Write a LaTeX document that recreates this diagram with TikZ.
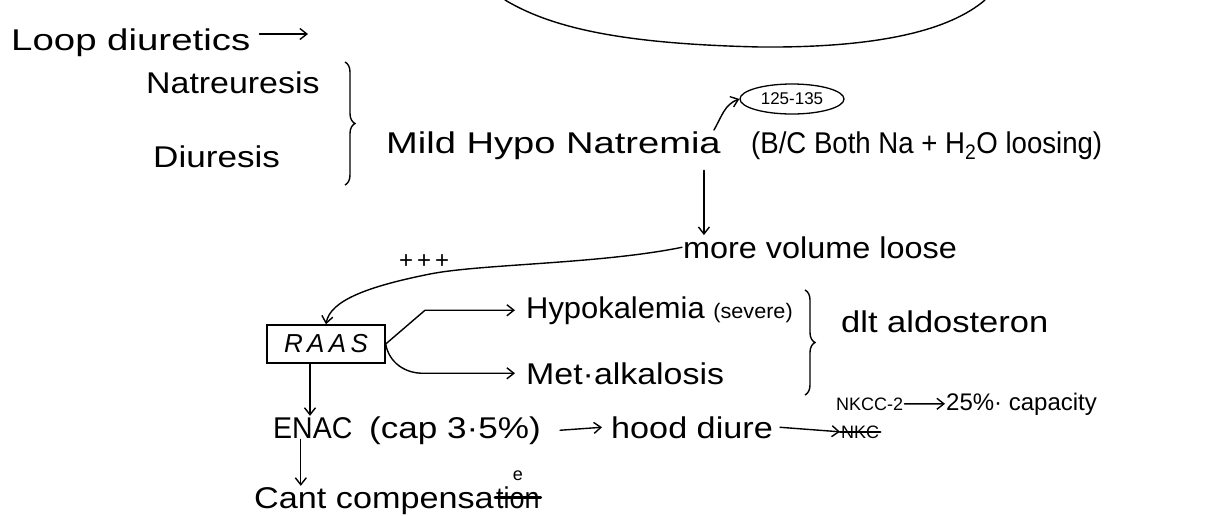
\documentclass[tikz,border=0pt]{standalone}
\usepackage{fontspec}
\setmainfont{Liberation Sans}
\usepackage{tikz}
\usetikzlibrary{arrows.meta, calc, decorations.pathreplacing, shapes.geometric}
\tikzset{
  hand/.style={
    font=\fontsize{30}{34}\selectfont\addfontfeature{FakeStretch=#1},
    inner sep=1pt,
    anchor=base west
  },
  hand/.default=1.1,
  note/.style={
    font=\fontsize{18}{20}\selectfont,
    inner sep=1pt,
    anchor=base west
  },
  pen/.style={
    line width=1.4pt,
    line cap=round
  },
  flow/.style={
    -{Straight Barb[length=7pt,width=11pt]},
    line width=1.4pt,
    line cap=round
  },
  curly/.style={
    decorate,
    decoration={brace, amplitude=10pt},
    line width=1.4pt
  },
  raasbox/.style={
    draw,
    line width=1.4pt,
    font=\itshape\fontsize{26}{28}\selectfont,
    minimum width=118pt,
    minimum height=38pt,
    inner sep=2pt
  },
  rangebox/.style={
    draw,
    ellipse,
    line width=1.3pt,
    font=\fontsize{17}{19}\selectfont,
    minimum width=104pt,
    minimum height=30pt,
    inner sep=0pt
  }
}

\begin{document}
\begin{tikzpicture}[x=1pt, y=-1pt]
    % 1 unit = 1 px of the page, y grows downwards
    \useasboundingbox (0,0) rectangle (1216,515);

    % arc cut off at the top
    \draw[pen] (505,0) .. controls (555,30) and (630,44) .. (760,47)
               .. controls (880,48) and (950,30) .. (985,0);

    % loop diuretics
    \node[hand=1.28] (loop) at (10,50) {Loop diuretics};
    \coordinate (loopend) at (308,34);
    \draw[flow] ([xshift=8pt]loopend -| loop.east) -- (loopend);

    % natriuresis + diuresis
    \node[hand=1.13] (natr) at (145,93) {Natreuresis};
    \node[hand=1.17] (diur) at (152,167) {Diuresis};
    \draw[curly] (345,62) -- (345,185);

    \node[hand=1.27] (mild) at (385,153) {Mild Hypo Natremia};
    \node[hand=0.92] (bc) at (750,153) {(B/C Both Na + H\textsubscript{2}O loosing)};
    \node[rangebox] (range) at (792,99) {125-135};
    \draw[flow] ([xshift=-8pt]mild.north east) to[out=60,in=200] (range.west);

    % volume loss
    \node[hand=1.08] (more) at (682,258) {more volume loose};
    \draw[flow] ([xshift=-18pt,yshift=-10pt]mild.south east) -- ([xshift=-18pt]mild.south east |- more.north);

    % RAAS
    \node[raasbox] (raas) at (326,344) {R\,A\,A\,S};
    \node[note, font=\fontsize{24}{26}\selectfont] (plus) at (398,268) {+\,+\,+};
    \draw[flow] (more.west) .. controls (600,264) and (480,264) .. (430,274)
                .. controls (370,286) and (330,300) .. (raas.north);

    \node[hand=1.03] (hypok) at (525,318) {Hypokalemia {\fontsize{21}{24}\selectfont(severe)}};
    \node[hand=1.13] (met) at (525,384) {Met·alkalosis};
    \draw[flow] (raas.east) -- ([xshift=-100pt]hypok.west) -- ([xshift=-10pt]hypok.west);
    \draw[flow] (raas.east) to[out=-80,in=180] ([xshift=-102pt]met.west) -- ([xshift=-10pt]met.west);

    \draw[curly] (805,290) -- (805,395);
    \node[hand=1.15] (ald) at (840,332) {dlt aldosteron};

    % ENaC line
    \node[hand=0.95] (enac) at (272,438) {ENAC};
    \node[hand=1.17] (cap) at (368,438) {(cap 3·5\%)};
    \node[hand=1.14] (hood) at (610,438) {hood diure};
    \node[note] (nkc) at (840,438) {NKC};
    \draw[pen, line width=2.2pt] (nkc.west) -- (nkc.east);
    \draw[flow] ([xshift=-16pt]raas.south) -- ([xshift=-16pt]raas.south |- enac.north);
    \draw[flow] ([xshift=18pt]cap.east) -- ([xshift=-8pt]hood.west);
    \draw[flow] ([xshift=6pt]hood.east) -- (nkc.west);

    \node[note] (nkcc) at (835,410) {NKCC-2};
    \node[hand=1.1, font=\fontsize{24}{26}\selectfont] (capac) at (945,410) {25\%· capacity};
    \draw[flow] (nkcc.east) -- (capac.west);

    % can't compensate
    \node[hand=1.14] (cant) at (253,508) {Cant compensa};
    \node[hand=0.9] (tion) at (cant.base east) {tion};
    \draw[pen, line width=2.5pt] (tion.west) -- (tion.east);
    \node[note, anchor=south] (supe) at ([yshift=3pt]tion.north) {e};
    \draw[flow] ([xshift=-12pt]enac.south) -- ([xshift=-12pt]enac.south |- cant.north);

\end{tikzpicture}
\end{document}
